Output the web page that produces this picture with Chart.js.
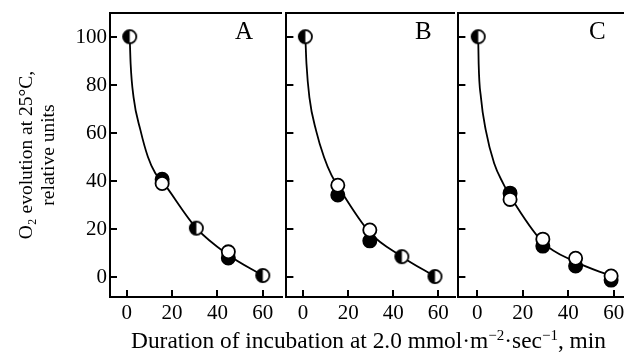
<!DOCTYPE html>
<html>
<head>
<meta charset="utf-8">
<script src="https://cdn.jsdelivr.net/npm/chart.js@4.4.1/dist/chart.umd.min.js"></script>
<style>
  body { margin: 0; width: 624px; height: 355px; overflow: hidden; background: #fff; position: relative; font-family: "Liberation Serif", "DejaVu Serif", serif; color: #000; }
  canvas { position: absolute; top: 0; }
  .panel-label { position: absolute; top: 18px; font-size: 25px; line-height: 1; }
  #xtitle { position: absolute; left: 131px; top: 329px; font-size: 23.4px; line-height: 1; white-space: nowrap; }
  #xtitle sup { font-size: 15px; vertical-align: 8px; line-height: 0; }
</style>
</head>
<body>
<canvas id="panelA" width="290" height="355" style="left:0px"></canvas>
<canvas id="panelB" width="185" height="355" style="left:278px"></canvas>
<canvas id="panelC" width="190" height="355" style="left:450px"></canvas>
<div class="panel-label" style="left:235px">A</div>
<div class="panel-label" style="left:415px">B</div>
<div class="panel-label" style="left:589px">C</div>
<div id="xtitle">Duration of incubation at 2.0 mmol·m<sup>−2</sup>·sec<sup>−1</sup>, min</div>
<script>
const xTicks = [0, 20, 40, 60];
const yTicks = [0, 20, 40, 60, 80, 100];
const yTitle = ['O₂ evolution at 25°C,', 'relative units'];

// panel A
const aFilledX = [15.6, 44.8];
const aFilledY = [40.8, 7.9];
const aOpenX = [15.6, 44.8];
const aOpenY = [39, 10.5];
const aHalfX = [1.3, 30.7, 60];
const aHalfY = [100.3, 20.4, 0.6];
const aCurveX = [1.3, 1.7, 3, 6, 9.3, 12.6, 15.6, 30.7, 44.8, 60];
const aCurveY = [100.3, 89, 75, 61.4, 50.2, 43.3, 40, 20.4, 9.2, 0.6];

// panel B
const bFilledX = [15.4, 29.6];
const bFilledY = [34.2, 15.1];
const bOpenX = [15.4, 29.6];
const bOpenY = [38.3, 19.6];
const bHalfX = [1, 43.8, 58.5];
const bHalfY = [100.3, 8.5, 0.2];
const bCurveX = [1, 1.5, 2.8, 5.8, 9.3, 12.6, 15.4, 29.6, 43.8, 58.5];
const bCurveY = [100.3, 89, 75, 61, 50, 42.5, 38, 18.5, 8.5, 0.2];

// panel C
const cFilledX = [14.4, 28.8, 43.2, 58.8];
const cFilledY = [35, 12.9, 4.6, -1.3];
const cOpenX = [14.4, 28.8, 43.2, 58.8];
const cOpenY = [32.4, 15.8, 7.8, 0.4];
const cHalfX = [0.4];
const cHalfY = [100.3];
const cCurveX = [0.4, 0.6, 1.6, 3.7, 7.4, 11.4, 14.4, 28.8, 43.2, 58.8];
const cCurveY = [100.3, 89, 75, 61.4, 47.5, 39, 33.8, 14.5, 6.3, 0.4];

const zip = (xs, ys) => xs.map((x, i) => ({x: x, y: ys[i]}));

// circle with the left half filled
const halfDot = document.createElement('canvas');
halfDot.width = 17;
halfDot.height = 17;
(function() {
  const c = halfDot.getContext('2d');
  c.fillStyle = '#fff';
  c.beginPath(); c.arc(8.5, 8.5, 6.6, 0, Math.PI * 2); c.fill();
  c.fillStyle = '#000';
  c.beginPath(); c.arc(8.5, 8.5, 6.6, Math.PI / 2, Math.PI * 1.5); c.closePath(); c.fill();
  c.lineWidth = 1.8;
  c.strokeStyle = '#000';
  c.beginPath(); c.arc(8.5, 8.5, 6.6, 0, Math.PI * 2); c.stroke();
})();

const serif = '"Liberation Serif", "DejaVu Serif", serif';

function makePanel(id, d, opt) {
  new Chart(document.getElementById(id), {
    type: 'scatter',
    data: {
      datasets: [
        { data: zip(d.openX, d.openY), order: 0, pointStyle: 'circle', pointRadius: 6.6,
          backgroundColor: '#fff', borderColor: '#000', borderWidth: 1.8, showLine: false },
        { data: zip(d.filledX, d.filledY), order: 1, pointStyle: 'circle', pointRadius: 6.6,
          backgroundColor: '#000', borderColor: '#000', borderWidth: 1.8, showLine: false },
        { data: zip(d.halfX, d.halfY), order: 1, pointStyle: halfDot, pointRadius: 7, showLine: false },
        { data: zip(d.curveX, d.curveY), order: 2, showLine: true, pointRadius: 0,
          borderColor: '#000', borderWidth: 1.8, cubicInterpolationMode: 'monotone', fill: false }
      ]
    },
    options: {
      responsive: false,
      animation: false,
      devicePixelRatio: 1,
      layout: { padding: { top: 13, left: opt.padLeft, right: opt.padRight, bottom: 0 } },
      plugins: { legend: { display: false }, tooltip: { enabled: false } },
      scales: {
        x: {
          type: 'linear', position: 'bottom', min: opt.xMin, max: opt.xMax,
          afterBuildTicks: s => { s.ticks = xTicks.map(v => ({value: v})); },
          afterFit: s => { s.height = 58; s.paddingLeft = 0; s.paddingRight = 0; },
          border: { display: true, color: '#000', width: 2 },
          grid: { drawOnChartArea: false, color: '#000', lineWidth: 2, tickLength: -7 },
          ticks: { color: '#000', padding: 11, autoSkip: false, maxRotation: 0, font: { family: serif, size: 21 } }
        },
        x2: {
          type: 'linear', position: 'top', min: opt.xMin, max: opt.xMax,
          afterFit: s => { s.height = 0; s.paddingLeft = 0; s.paddingRight = 0; },
          border: { display: true, color: '#000', width: 2 },
          grid: { drawOnChartArea: false, drawTicks: false },
          ticks: { display: false }
        },
        y: {
          type: 'linear', position: 'left', min: -8.35, max: 110.2,
          afterBuildTicks: s => { s.ticks = yTicks.map(v => ({value: v})); },
          afterFit: s => { s.width = opt.yWidth; s.paddingTop = 0; s.paddingBottom = 0; },
          border: { display: true, color: '#000', width: 2 },
          grid: { drawOnChartArea: false, color: '#000', lineWidth: 2, tickLength: -7 },
          ticks: { display: opt.yLabels, color: '#000', padding: 10, font: { family: serif, size: 21 } },
          title: { display: opt.yLabels, text: yTitle, color: '#000', padding: { top: 16.5, bottom: 0 },
                   font: { family: serif, size: 19.5, lineHeight: 1.1 } }
        }
      }
    }
  });
}

makePanel('panelA',
  { filledX: aFilledX, filledY: aFilledY, openX: aOpenX, openY: aOpenY, halfX: aHalfX, halfY: aHalfY, curveX: aCurveX, curveY: aCurveY },
  { padLeft: 0, padRight: 6, yWidth: 110, yLabels: true, xMin: -7.4, xMax: 68.3 });
makePanel('panelB',
  { filledX: bFilledX, filledY: bFilledY, openX: bOpenX, openY: bOpenY, halfX: bHalfX, halfY: bHalfY, curveX: bCurveX, curveY: bCurveY },
  { padLeft: 6, padRight: 6.5, yWidth: 0, yLabels: false, xMin: -7.4, xMax: 67.2 });
makePanel('panelC',
  { filledX: cFilledX, filledY: cFilledY, openX: cOpenX, openY: cOpenY, halfX: cHalfX, halfY: cHalfY, curveX: cCurveX, curveY: cCurveY },
  { padLeft: 6.5, padRight: 8, yWidth: 0, yLabels: false, xMin: -8.3, xMax: 67.8 });
</script>
</body>
</html>
